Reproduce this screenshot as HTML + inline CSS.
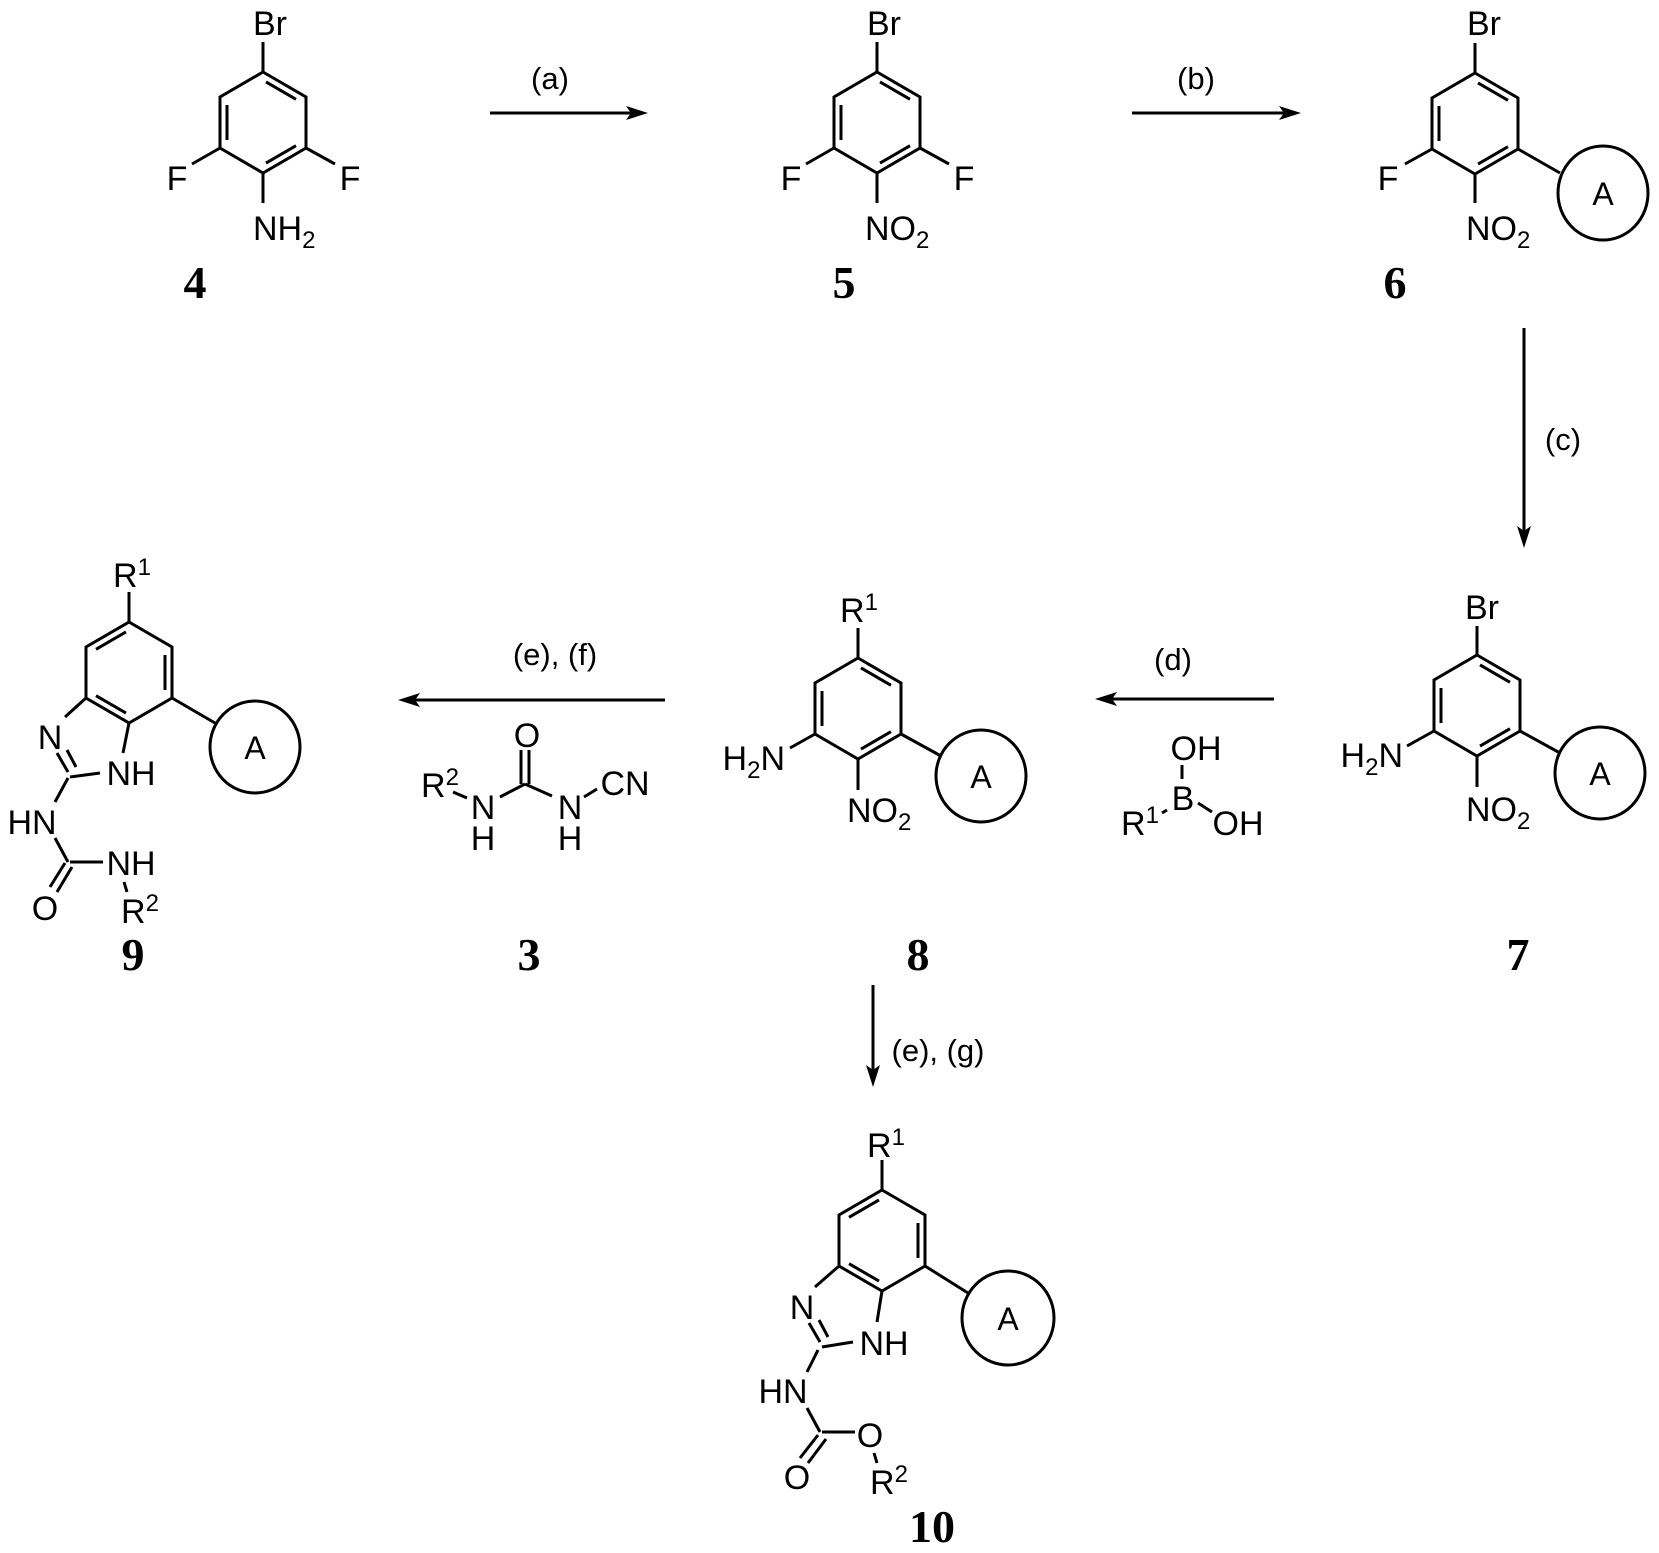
<!DOCTYPE html>
<html><head><meta charset="utf-8"><style>
html,body{margin:0;padding:0;background:#fff}
svg{display:block}
text{font-family:"Liberation Sans",sans-serif;font-size:34px;fill:#000}
.lb{font-size:31px}
.num{font-family:"Liberation Serif",serif;font-weight:bold;font-size:46px}
.s{font-size:24px}
.A{font-size:32px}
</style></head><body>
<svg width="1659" height="1553" viewBox="0 0 1659 1553" xmlns="http://www.w3.org/2000/svg">
<defs>
<path id="rA" d="M0,0 L43,25 L43,76 L0,101 L-43,76 L-43,25 Z M3,9.9 L33,27.3 M-36,33 L-36,68 M33,73.7 L3,91.1"/>
<path id="rB" d="M0,0 L43,25 L43,76 L0,101 L-43,76 L-43,25 Z M-3,9.9 L-33,27.3 M36,33 L36,68 M-33,73.7 L-3,91.1"/>
</defs>
<g fill="none" stroke="#000" stroke-width="3" stroke-linejoin="miter">
<use href="#rA" x="263" y="72"/>
<use href="#rA" x="877" y="72"/>
<use href="#rA" x="1475" y="73"/>
<use href="#rA" x="1477" y="655"/>
<use href="#rA" x="858" y="658"/>
<use href="#rB" x="129" y="622"/>
<use href="#rB" x="882" y="1190"/>
<path d="M263,72V42 M220,148L192,164 M306,148L335,164 M263,173V203"/>
<path d="M877,72V42 M834,148L806,164 M920,148L949,164 M877,173V203"/>
<path d="M1475,73V43 M1432,149L1405,164 M1475,174V203 M1518,149L1560,173"/>
<ellipse cx="1603" cy="193" rx="45" ry="47"/>
<path d="M1477,655V626 M1434,731L1407,746 M1477,756V787 M1520,731L1560,753"/>
<ellipse cx="1600" cy="773" rx="45" ry="46"/>
<path d="M858,658V628 M815,734L790,748 M858,759V790 M901,734L941,756"/>
<ellipse cx="981" cy="776" rx="45" ry="46"/>
<path d="M129,622V592 M86,698L65,717 M57,753L68,772 M67,750L76,767 M70,777L100,773 M129,723L123,753 M68,778L55,802 M55,838L68,862 M70,862L103,862 M124,882L127,892 M65,863L50,887 M72,867L57,892 M172,698L215,723"/>
<ellipse cx="255" cy="747" rx="45" ry="46"/>
<path d="M882,1190V1160 M839,1266L815,1287 M809,1323L820,1342 M819,1320L828,1337 M822,1347L853,1342 M882,1291L877,1322 M818,1350L807,1372 M807,1408L820,1432 M822,1432L855,1432 M874,1453L877,1463 M818,1435L800,1458 M826,1439L808,1463 M925,1266L968,1293"/>
<ellipse cx="1008" cy="1318" rx="46" ry="47"/>
<path d="M521,750V784 M529,750V784 M453,792L467,798 M500,797L525,784 M525,784L552,796 M584,797L597,789"/>
<path d="M1182,765V779 M1198,803L1212,812 M1162,813L1167,810"/>
<path d="M490,113H632 M1132,113H1285 M1524,328V532 M1274,699H1111 M665,700H414 M873,985V1071"/>
</g>
<g fill="#000">
<polygon points="648,113 626,106 631,113 626,120"/>
<polygon points="1301,113 1279,106 1284,113 1279,120"/>
<polygon points="1524,548 1517,526 1524,531 1531,526"/>
<polygon points="1095,699 1117,692 1112,699 1117,706"/>
<polygon points="398,700 420,693 415,700 420,707"/>
<polygon points="873,1087 866,1065 873,1070 880,1065"/>
</g>
<text class="lb" x="550" y="89" text-anchor="middle">(a)</text>
<text class="lb" x="1196" y="89" text-anchor="middle">(b)</text>
<text class="lb" x="1563" y="450" text-anchor="middle">(c)</text>
<text class="lb" x="1173" y="670" text-anchor="middle">(d)</text>
<text class="lb" x="555" y="665" text-anchor="middle">(e), (f)</text>
<text class="lb" x="938" y="1061" text-anchor="middle">(e), (g)</text>

<text x="270" y="35" text-anchor="middle">Br</text>
<text x="177" y="190" text-anchor="middle">F</text>
<text x="350" y="190" text-anchor="middle">F</text>
<text x="253" y="240">NH<tspan class="s" dy="8">2</tspan></text>

<text x="884" y="35" text-anchor="middle">Br</text>
<text x="791" y="190" text-anchor="middle">F</text>
<text x="964" y="190" text-anchor="middle">F</text>
<text x="865" y="240">NO<tspan class="s" dy="8">2</tspan></text>

<text x="1484" y="35" text-anchor="middle">Br</text>
<text x="1388" y="190" text-anchor="middle">F</text>
<text x="1466" y="240">NO<tspan class="s" dy="8">2</tspan></text>
<text class="A" x="1603" y="205" text-anchor="middle">A</text>

<text x="1482" y="619" text-anchor="middle">Br</text>
<text x="1403" y="767" text-anchor="end">H<tspan class="s" dy="8">2</tspan><tspan dy="-8">N</tspan></text>
<text x="1466" y="821">NO<tspan class="s" dy="8">2</tspan></text>
<text class="A" x="1600" y="785" text-anchor="middle">A</text>

<text x="840" y="622">R<tspan class="s" dy="-12">1</tspan></text>
<text x="785" y="770" text-anchor="end">H<tspan class="s" dy="8">2</tspan><tspan dy="-8">N</tspan></text>
<text x="847" y="822">NO<tspan class="s" dy="8">2</tspan></text>
<text class="A" x="981" y="788" text-anchor="middle">A</text>

<text x="113" y="587">R<tspan class="s" dy="-12">1</tspan></text>
<text x="50" y="749" text-anchor="middle">N</text>
<text x="131" y="785" text-anchor="middle">NH</text>
<text x="32" y="834" text-anchor="middle">HN</text>
<text x="131" y="875" text-anchor="middle">NH</text>
<text x="45" y="920" text-anchor="middle">O</text>
<text x="121" y="923">R<tspan class="s" dy="-12">2</tspan></text>
<text class="A" x="255" y="759" text-anchor="middle">A</text>

<text x="527" y="747" text-anchor="middle">O</text>
<text x="421" y="797">R<tspan class="s" dy="-12">2</tspan></text>
<text x="483" y="819" text-anchor="middle">N</text>
<text x="483" y="850" text-anchor="middle">H</text>
<text x="570" y="819" text-anchor="middle">N</text>
<text x="570" y="850" text-anchor="middle">H</text>
<text x="625" y="795" text-anchor="middle">CN</text>

<text x="1196" y="760" text-anchor="middle">OH</text>
<text x="1183" y="810" text-anchor="middle">B</text>
<text x="1238" y="835" text-anchor="middle">OH</text>
<text x="1121" y="835">R<tspan class="s" dy="-12">1</tspan></text>

<text x="867" y="1157">R<tspan class="s" dy="-12">1</tspan></text>
<text x="802" y="1319" text-anchor="middle">N</text>
<text x="884" y="1355" text-anchor="middle">NH</text>
<text x="783" y="1403" text-anchor="middle">HN</text>
<text x="870" y="1447" text-anchor="middle">O</text>
<text x="797" y="1489" text-anchor="middle">O</text>
<text x="870" y="1494">R<tspan class="s" dy="-12">2</tspan></text>
<text class="A" x="1008" y="1330" text-anchor="middle">A</text>

<text class="num" x="195" y="298" text-anchor="middle">4</text>
<text class="num" x="844" y="298" text-anchor="middle">5</text>
<text class="num" x="1395" y="298" text-anchor="middle">6</text>
<text class="num" x="133" y="970" text-anchor="middle">9</text>
<text class="num" x="529" y="970" text-anchor="middle">3</text>
<text class="num" x="918" y="970" text-anchor="middle">8</text>
<text class="num" x="1518" y="970" text-anchor="middle">7</text>
<text class="num" x="932" y="1542" text-anchor="middle">10</text>
</svg>
</body></html>
